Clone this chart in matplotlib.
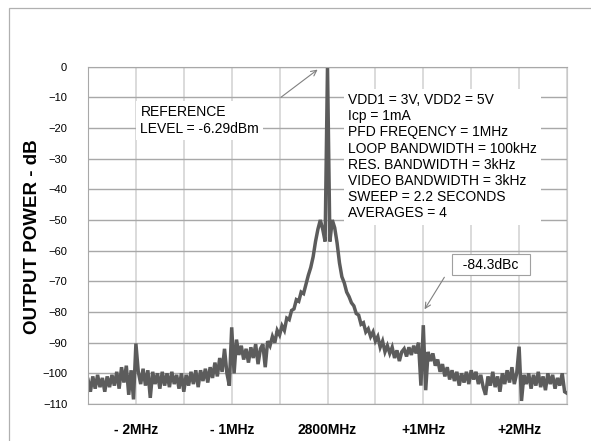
import matplotlib
matplotlib.use('Agg')
import matplotlib.pyplot as plt
import matplotlib.patches as patches
import numpy as np

plt.rcParams['font.family'] = ['Liberation Sans', 'DejaVu Sans']

# offset from carrier in MHz, step 0.025 MHz, from -2.5 to +2.5
freq_start = -2.5
freq_step = 0.025
power_db = [
    -102, -106, -101, -105, -100.5, -104.5, -101.5, -106, -101, -104.5,
    -100.5, -104, -99.5, -105, -98, -103, -97.5, -107, -99, -108.5,
    -90.3,  # spur at -2MHz
    -99.5, -103.5, -98.5, -104, -99, -108, -99.5, -103.5, -100, -105,
    -99.5, -104, -100, -104.5, -99.5, -103.5, -100.5, -105, -100, -106,
    -100.5, -104, -99.5, -103.5, -99, -104.5, -99, -102.5, -98.5, -103,
    -98, -101.5, -96.5, -101, -95, -99.5, -92, -100, -104,
    -85,  # spur at -1MHz
    -100, -89, -94, -91, -95.5, -92, -96.5, -91.5, -95, -90.5,
    -97, -92, -90.5, -98, -89.5, -91, -88, -90, -86, -87.5,
    -84.5, -86, -82, -82.5, -79.5, -79, -76, -76.5, -73.5, -74,
    -71, -68, -65.5, -62, -57, -53, -50, -53, -57,
    0,  # carrier, 2800MHz
    -57, -50, -52.5, -57.5, -64, -68.5, -70.5, -73.5, -75, -77,
    -78, -80.5, -81, -84, -83.5, -86.5, -85.5, -88, -86.5, -89.5,
    -88, -91.5, -89.5, -93, -91, -93.5, -91.5, -95, -92.5, -96,
    -93, -92, -94.5, -91.5, -94, -91, -93.5, -90, -104,
    -84.3,  # spur at +1MHz
    -105.5, -93, -96, -93.5, -97.5, -95.5, -99.5, -97, -101, -98,
    -102, -99, -102.5, -99.5, -104, -100, -103, -99.5, -103.5, -99,
    -102, -99.5, -103.5, -100.5, -104.5, -107, -101, -104, -99.5, -104.5,
    -101, -106, -100, -103.5, -99, -103, -98, -103.5, -100,
    -91.3,  # spur at +2MHz
    -109, -100.5, -103.5, -100, -105, -100.5, -104, -99.5, -104.5, -101,
    -105.5, -100, -103.5, -100.5, -105, -101.5, -104, -100, -106, -106.5,
]
freq = freq_start + freq_step * np.arange(len(power_db))

tick_pos = [-2, -1, 0, 1, 2]
tick_labels = ['- 2MHz', '- 1MHz', '2800MHz', '+1MHz', '+2MHz']

settings = ['VDD1 = 3V, VDD2 = 5V', 'Icp = 1mA', 'PFD FREQENCY = 1MHz',
            'LOOP BANDWIDTH = 100kHz', 'RES. BANDWIDTH = 3kHz',
            'VIDEO BANDWIDTH = 3kHz', 'SWEEP = 2.2 SECONDS', 'AVERAGES = 4']

fig = plt.figure(figsize=(5.91, 4.41), dpi=100)
ax = fig.add_axes([0.1489, 0.0839, 0.8105, 0.7649])

# outer frame
fig.patches.append(patches.Rectangle((9 / 591, -0.1), 1.0, 1 - 8 / 441 + 0.1,
                                     transform=fig.transFigure, fill=False,
                                     edgecolor='#b0b0b0', lw=0.9))

ax.plot(freq, power_db, color='#5c5c5c', lw=2.5, solid_joinstyle='miter', zorder=2)

ax.set_xlim(-2.5, 2.5)
ax.set_ylim(-110, 0)
ax.set_yticks(range(-110, 1, 10))
ax.set_xticks(tick_pos, labels=tick_labels, fontweight='bold', fontsize=10)
ax.set_xticks(np.arange(-2.5, 2.51, 0.5), minor=True)
ax.tick_params(axis='both', which='both', length=0)
ax.tick_params(axis='y', labelsize=8, pad=15)
ax.tick_params(axis='x', pad=14)

ax.grid(axis='x', which='both', color='#d4d4d4', lw=1.2)
ax.grid(axis='y', color='#a8a8a8', lw=1.0)
ax.set_axisbelow(True)
for side in ['left', 'bottom', 'top']:
    ax.spines[side].set_color('#a8a8a8')
ax.spines['right'].set_color('#c8c8c8')

fig.text(33 / 591, 1 - 237 / 441, 'OUTPUT POWER - dB', rotation=90,
         ha='center', va='center', fontsize=13.5, fontweight='bold')

box = dict(boxstyle='square,pad=0.3', facecolor='white', edgecolor='none')
ax.text(-1.952, -12.6, 'REFERENCE\nLEVEL = -6.29dBm', fontsize=10,
        va='top', ha='left', linespacing=1.2, bbox=box, zorder=4)
ax.annotate('', xy=(-0.08, -0.4), xytext=(-0.508, -10.5),
            arrowprops=dict(arrowstyle='->', color='#808080', lw=0.8))

ax.text(0.215, -8.6, '\n'.join(settings), fontsize=10, va='top', ha='left',
        linespacing=1.2, bbox=box, zorder=4)

ax.text(1.707, -64.6, '  -84.3dBc  ', fontsize=10, ha='center', va='center',
        bbox=dict(boxstyle='square,pad=0.25', facecolor='white',
                  edgecolor='#a0a0a0', lw=0.8), zorder=4)
ax.annotate('', xy=(0.998, -79.9), xytext=(1.235, -67.9),
            arrowprops=dict(arrowstyle='->', color='#808080', lw=0.8))

fig.savefig('out.png', dpi=100)
